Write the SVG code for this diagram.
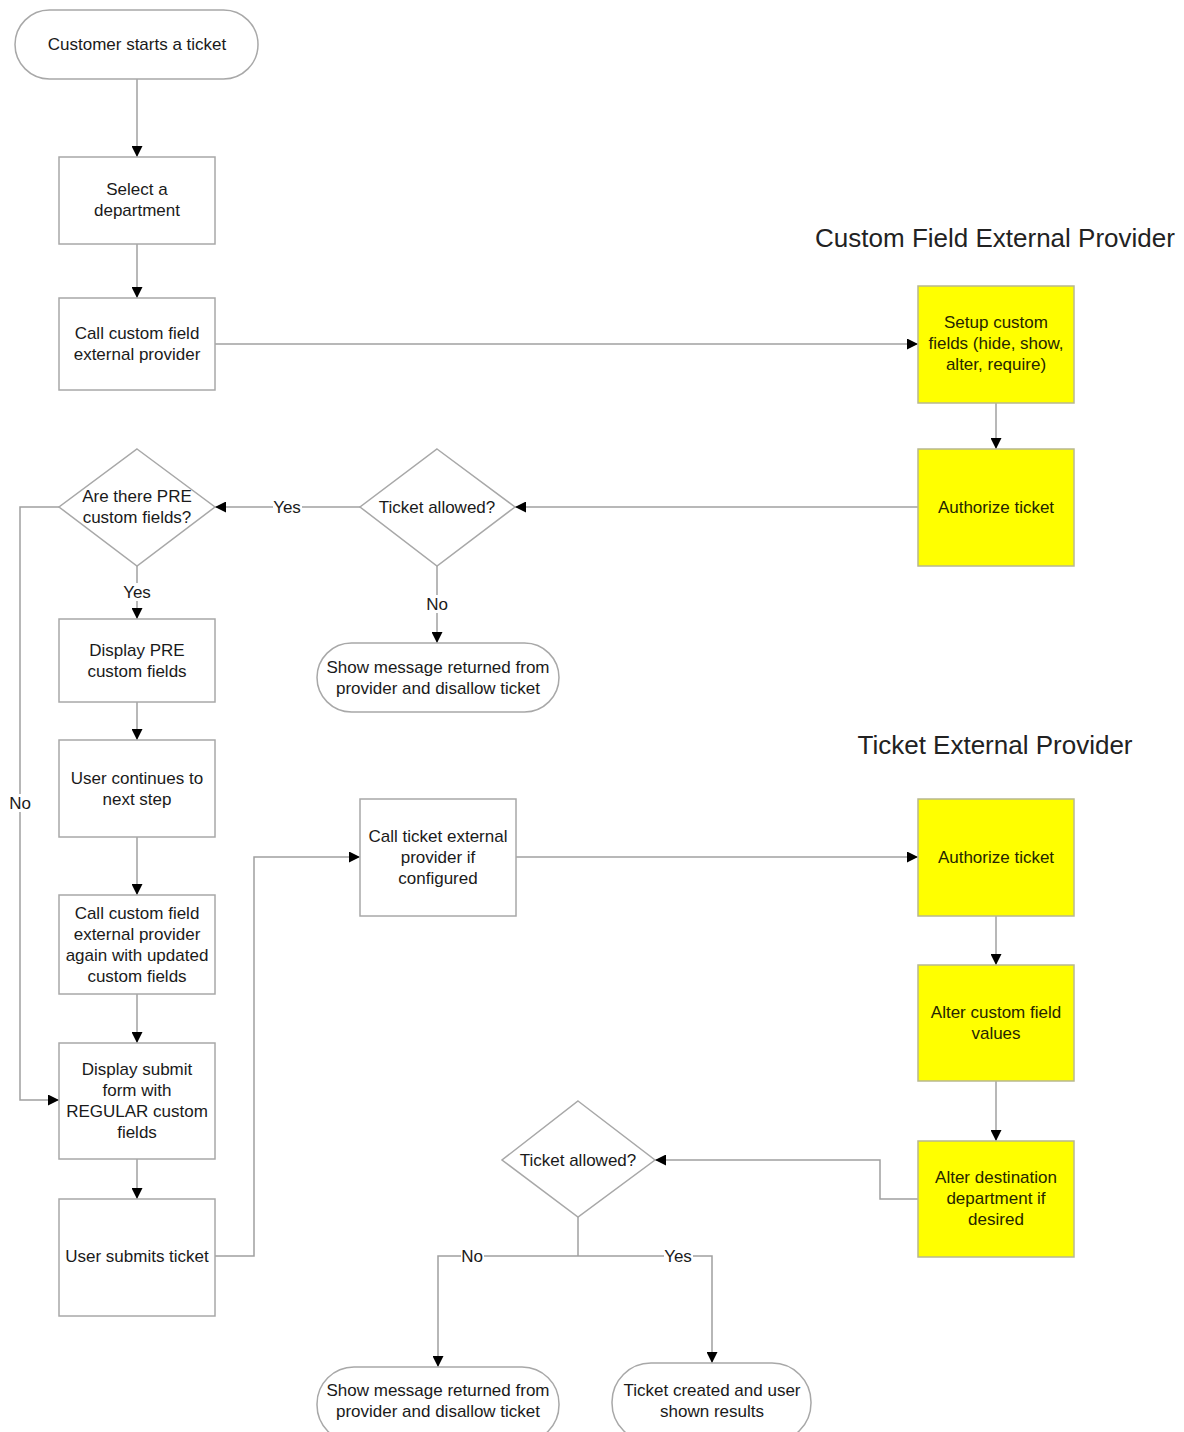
<svg xmlns="http://www.w3.org/2000/svg" width="1184" height="1432" viewBox="0 0 1184 1432">
<style>
.box{fill:#fff;stroke:#a8a8a8;stroke-width:1.5}
.yel{fill:#ffff00;stroke:#b8b890;stroke-width:1.5}
.t{font-family:"Liberation Sans",Arial,sans-serif;font-size:17px;fill:#1a1a1a;text-anchor:middle;dominant-baseline:central}
.ty{font-family:"Liberation Sans",Arial,sans-serif;font-size:17px;fill:#262600;text-anchor:middle;dominant-baseline:central}
.title{font-family:"Liberation Sans",Arial,sans-serif;font-size:26px;fill:#222;text-anchor:middle;dominant-baseline:central}
.c{fill:none;stroke:#a0a0a0;stroke-width:1.5}
.lbl{fill:#fff}
</style>
<defs>
<marker id="ah" viewBox="0 0 10 10" refX="10" refY="5" markerWidth="11" markerHeight="11" markerUnits="userSpaceOnUse" orient="auto">
<path d="M0,0 L10,5 L0,10 z" fill="#000"/>
</marker>
</defs>

<g id="connectors">
<path class="c" d="M137,79 V157" marker-end="url(#ah)"/>
<path class="c" d="M137,244 V298" marker-end="url(#ah)"/>
<path class="c" d="M215,344 H918" marker-end="url(#ah)"/>
<path class="c" d="M996,403 V449" marker-end="url(#ah)"/>
<path class="c" d="M918,507 H515" marker-end="url(#ah)"/>
<path class="c" d="M360,507 H215" marker-end="url(#ah)"/>
<path class="c" d="M437,566 V643" marker-end="url(#ah)"/>
<path class="c" d="M137,566 V619" marker-end="url(#ah)"/>
<path class="c" d="M59,507 H20 V1100 H59" marker-end="url(#ah)"/>
<path class="c" d="M137,702 V740" marker-end="url(#ah)"/>
<path class="c" d="M137,837 V895" marker-end="url(#ah)"/>
<path class="c" d="M137,994 V1043" marker-end="url(#ah)"/>
<path class="c" d="M137,1159 V1199" marker-end="url(#ah)"/>
<path class="c" d="M215,1256 H254 V857 H360" marker-end="url(#ah)"/>
<path class="c" d="M516,857 H918" marker-end="url(#ah)"/>
<path class="c" d="M996,916 V965" marker-end="url(#ah)"/>
<path class="c" d="M996,1081 V1141" marker-end="url(#ah)"/>
<path class="c" d="M918,1199 H880 V1160 H655" marker-end="url(#ah)"/>
<path class="c" d="M578,1217 V1256"/>
<path class="c" d="M578,1256 H438 V1367" marker-end="url(#ah)"/>
<path class="c" d="M578,1256 H712 V1363" marker-end="url(#ah)"/>
<rect class="lbl" x="273" y="498" width="29" height="18"/>
<text class="t" x="287" y="507">Yes</text>
<rect class="lbl" x="122" y="583" width="30" height="18"/>
<text class="t" x="137" y="592">Yes</text>
<rect class="lbl" x="426" y="595" width="23" height="18"/>
<text class="t" x="437" y="604">No</text>
<rect class="lbl" x="9" y="794" width="23" height="18"/>
<text class="t" x="20" y="803">No</text>
<rect class="lbl" x="461" y="1247" width="23" height="18"/>
<text class="t" x="472" y="1256">No</text>
<rect class="lbl" x="664" y="1247" width="29" height="18"/>
<text class="t" x="678" y="1256">Yes</text>
</g>

<text class="title" x="995" y="238">Custom Field External Provider</text>
<text class="title" x="995" y="745">Ticket External Provider</text>

<g id="start">
<rect class="box" x="15" y="10" width="243" height="69" rx="34.5"/>
<text class="t" x="137" y="44">Customer starts a ticket</text>
</g>
<g id="select-dept">
<rect class="box" x="59" y="157" width="156" height="87"/>
<text class="t" x="137" y="189">Select a</text>
<text class="t" x="137" y="210">department</text>
</g>
<g id="call-cf">
<rect class="box" x="59" y="298" width="156" height="92"/>
<text class="t" x="137" y="333">Call custom field</text>
<text class="t" x="137" y="354">external provider</text>
</g>
<g id="setup-cf">
<rect class="yel" x="918" y="286" width="156" height="117"/>
<text class="ty" x="996" y="322">Setup custom</text>
<text class="ty" x="996" y="343">fields (hide, show,</text>
<text class="ty" x="996" y="364">alter, require)</text>
</g>
<g id="authorize-1">
<rect class="yel" x="918" y="449" width="156" height="117"/>
<text class="ty" x="996" y="507">Authorize ticket</text>
</g>
<g id="allowed-1">
<polygon class="box" points="437,449 515,507 437,566 360,507"/>
<text class="t" x="437" y="507">Ticket allowed?</text>
</g>
<g id="pre-fields">
<polygon class="box" points="137,449 215,507 137,566 59,507"/>
<text class="t" x="137" y="496">Are there PRE</text>
<text class="t" x="137" y="517">custom fields?</text>
</g>
<g id="disallow-1">
<rect class="box" x="317" y="643" width="242" height="69" rx="34.5"/>
<text class="t" x="438" y="667">Show message returned from</text>
<text class="t" x="438" y="688">provider and disallow ticket</text>
</g>
<g id="display-pre">
<rect class="box" x="59" y="619" width="156" height="83"/>
<text class="t" x="137" y="650">Display PRE</text>
<text class="t" x="137" y="671">custom fields</text>
</g>
<g id="user-continues">
<rect class="box" x="59" y="740" width="156" height="97"/>
<text class="t" x="137" y="778">User continues to</text>
<text class="t" x="137" y="799">next step</text>
</g>
<g id="call-cf-again">
<rect class="box" x="59" y="895" width="156" height="99"/>
<text class="t" x="137" y="913">Call custom field</text>
<text class="t" x="137" y="934">external provider</text>
<text class="t" x="137" y="955">again with updated</text>
<text class="t" x="137" y="976">custom fields</text>
</g>
<g id="display-submit">
<rect class="box" x="59" y="1043" width="156" height="116"/>
<text class="t" x="137" y="1069">Display submit</text>
<text class="t" x="137" y="1090">form with</text>
<text class="t" x="137" y="1111">REGULAR custom</text>
<text class="t" x="137" y="1132">fields</text>
</g>
<g id="user-submits">
<rect class="box" x="59" y="1199" width="156" height="117"/>
<text class="t" x="137" y="1256">User submits ticket</text>
</g>
<g id="call-ticket">
<rect class="box" x="360" y="799" width="156" height="117"/>
<text class="t" x="438" y="836">Call ticket external</text>
<text class="t" x="438" y="857">provider if</text>
<text class="t" x="438" y="878">configured</text>
</g>
<g id="authorize-2">
<rect class="yel" x="918" y="799" width="156" height="117"/>
<text class="ty" x="996" y="857">Authorize ticket</text>
</g>
<g id="alter-cf">
<rect class="yel" x="918" y="965" width="156" height="116"/>
<text class="ty" x="996" y="1012">Alter custom field</text>
<text class="ty" x="996" y="1033">values</text>
</g>
<g id="alter-dest">
<rect class="yel" x="918" y="1141" width="156" height="116"/>
<text class="ty" x="996" y="1177">Alter destination</text>
<text class="ty" x="996" y="1198">department if</text>
<text class="ty" x="996" y="1219">desired</text>
</g>
<g id="allowed-2">
<polygon class="box" points="578,1101 655,1160 578,1217 502,1160"/>
<text class="t" x="578" y="1160">Ticket allowed?</text>
</g>
<g id="disallow-2">
<rect class="box" x="317" y="1367" width="242" height="75" rx="37"/>
<text class="t" x="438" y="1390">Show message returned from</text>
<text class="t" x="438" y="1411">provider and disallow ticket</text>
</g>
<g id="created">
<rect class="box" x="612" y="1363" width="199" height="79" rx="39"/>
<text class="t" x="712" y="1390">Ticket created and user</text>
<text class="t" x="712" y="1411">shown results</text>
</g>
</svg>
